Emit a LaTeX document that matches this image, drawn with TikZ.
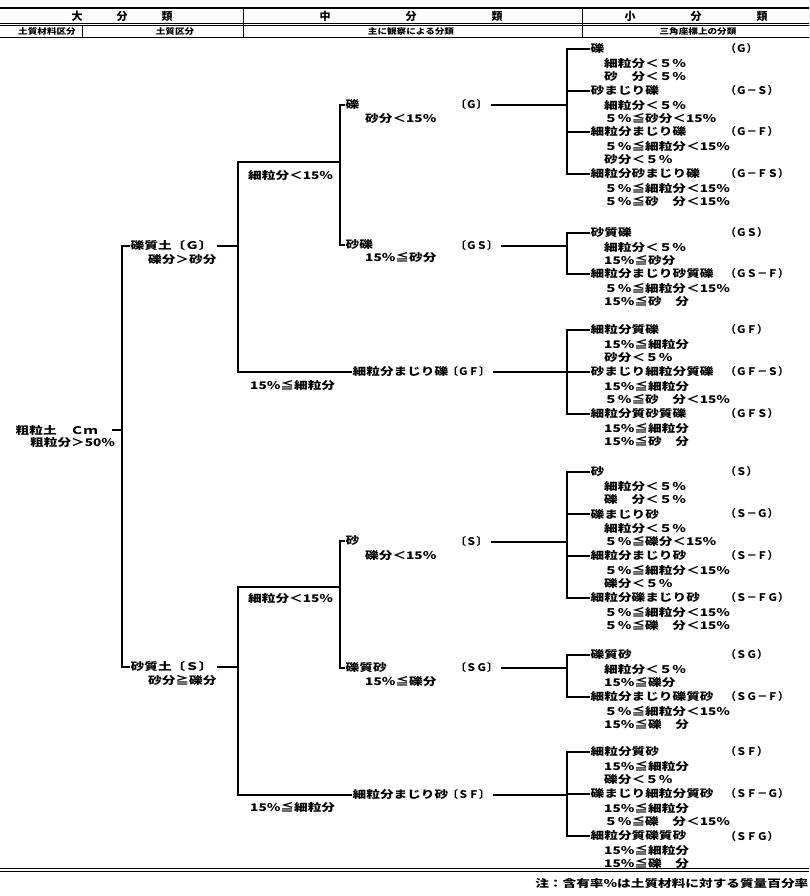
\documentclass[tikz,border=0pt]{standalone}
\usepackage{fontspec}
\newfontfamily\jp[FakeStretch=1.3]{Noto Sans CJK JP}
\newfontfamily\jpn{Noto Sans CJK JP}
\newfontfamily\jps[FakeStretch=1.2]{Noto Sans CJK JP}
\begin{document}
\begin{tikzpicture}[x=1pt,y=-1pt,
  ln/.style={line width=1.1pt,black},
  tl/.style={anchor=west,inner sep=0.5pt,font=\jp\bfseries\fontsize{10.5}{13.8}\selectfont},
  cd/.style={anchor=north west,inner sep=0pt,align=left,font=\jp\bfseries\fontsize{10.5}{13.8}\selectfont},
  code/.style={anchor=west,inner sep=0.5pt,font=\jpn\bfseries\fontsize{10.5}{13.8}\selectfont},
  hd/.style={inner sep=0pt,font=\jpn\bfseries\fontsize{11}{13}\selectfont},
  hs/.style={inner sep=0pt,font=\jps\bfseries\fontsize{8}{10}\selectfont}]
\useasboundingbox (0,0) rectangle (809,896);
\fill[white] (0,0) rectangle (809,896);
% header table
\draw[line width=1.4pt] (0,8) -- (809,8);
\draw[line width=0.7pt] (0,23) -- (809,23);
\draw[line width=0.7pt] (0,25.5) -- (809,25.5);
\draw[line width=0.7pt] (0,37) -- (809,37);
\draw[line width=0.8pt] (243,8) -- (243,37);
\draw[line width=0.8pt] (582,8) -- (582,37);
\draw[line width=0.8pt] (82,25.5) -- (82,37);
\node[hd] (h1) at (122,16) {大\hspace{34pt}分\hspace{34pt}類};
\node[hd] (h2) at (411,16) {中\hspace{75pt}分\hspace{75pt}類};
\node[hd] (h3) at (696,16) {小\hspace{55pt}分\hspace{55pt}類};
\node[hs] (r1) at (47,31) {土質材料区分};
\node[hs] (r2) at (175,31) {土質区分};
\node[hs] (r3) at (411,31) {主に観察による分類};
\node[hs] (r4) at (698,31) {三角座標上の分類};
% bottom lines and note
\draw[line width=0.9pt] (0,868) -- (809,868);
\draw[line width=0.9pt] (0,871.5) -- (809,871.5);
\node[code,anchor=east,font=\jp\bfseries\fontsize{10.5}{13}\selectfont] (note) at (809,884) {注：含有率％は土質材料に対する質量百分率};

% junctions
\coordinate (jR) at (122,430);
\coordinate (jL1) at (238,246);
\coordinate (jL2) at (238,667);
\coordinate (jM1) at (340,162);
\coordinate (jM2) at (340,587);
\coordinate (jG) at (567,105);
\coordinate (jGS) at (567,246);
\coordinate (jGF) at (567,372);
\coordinate (jS) at (567,542);
\coordinate (jSG) at (567,668);
\coordinate (jSF) at (567,795);

% root
\node[tl] (root) at (15,430) {粗粒土　Ｃｍ};
\node[cd] (rootc) at (30,437) {粗粒分＞50％};
\draw[ln,shorten <=14pt] (root.east) -- (jR);

% soils
\node[tl] (gsoil) at (130,246) {礫質土〔Ｇ〕};
\node[cd] (gsoilc) at (148,254) {礫分＞砂分};
\node[tl] (ssoil) at (130,667) {砂質土〔Ｓ〕};
\node[cd] (ssoilc) at (148,675) {砂分≧礫分};
\draw[ln] (gsoil.west) -| (jR);
\draw[ln] (ssoil.west) -| (jR);
\draw[ln,shorten <=4pt] (gsoil.east) -- (jL1);
\draw[ln,shorten <=4pt] (ssoil.east) -- (jL2);

% branch labels
\node[cd] (b1) at (248,170) {細粒分＜15％};
\node[cd] (b2) at (250,380) {15％≦細粒分};
\node[cd] (b3) at (248,593) {細粒分＜15％};
\node[cd] (b4) at (250,802) {15％≦細粒分};

% middle classification (gravel)
\node[tl] (mG) at (345,105) {礫};
\node[cd] (mGc) at (365,113) {砂分＜15％};
\node[code] (cmG) at (455,105) {〔Ｇ〕};
\node[tl] (mGS) at (345,245) {砂礫};
\node[cd] (mGSc) at (365,252) {15％≦砂分};
\node[code] (cmGS) at (455,246) {〔ＧＳ〕};
\node[tl] (mGF) at (352,372) {細粒分まじり礫};
\node[code] (cmGF) at (447,372) {〔ＧＦ〕};
\draw[ln] (mG.west) -| (jM1);
\draw[ln] (mGS.west) -| (jM1);
\draw[ln] (jM1) -| (jL1);
\draw[ln] (mGF.west) -| (jL1);
\draw[ln,shorten <=3pt] (cmG.east) -- (jG);
\draw[ln,shorten <=3pt] (cmGS.east) -- (jGS);
\draw[ln,shorten <=3pt] (cmGF.east) -- (jGF);

% middle classification (sand)
\node[tl] (mS) at (345,541) {砂};
\node[cd] (mSc) at (365,550) {礫分＜15％};
\node[code] (cmS) at (455,542) {〔Ｓ〕};
\node[tl] (mSG) at (345,668) {礫質砂};
\node[cd] (mSGc) at (365,676) {15％≦礫分};
\node[code] (cmSG) at (455,668) {〔ＳＧ〕};
\node[tl] (mSF) at (352,795) {細粒分まじり砂};
\node[code] (cmSF) at (447,795) {〔ＳＦ〕};
\draw[ln] (mS.west) -| (jM2);
\draw[ln] (mSG.west) -| (jM2);
\draw[ln] (jM2) -| (jL2);
\draw[ln] (mSF.west) -| (jL2);
\draw[ln,shorten <=3pt] (cmS.east) -- (jS);
\draw[ln,shorten <=3pt] (cmSG.east) -- (jSG);
\draw[ln,shorten <=3pt] (cmSF.east) -- (jSF);

% small classification: G
\node[tl] (g1) at (590,49) {礫};
\node[code] (cg1) at (725,49) {（Ｇ）};
\node[cd] at (604,58) {細粒分＜５％\\砂　分＜５％};
\node[tl] (g2) at (590,91) {砂まじり礫};
\node[code] (cg2) at (725,91) {（Ｇ－Ｓ）};
\node[cd] at (604,100) {細粒分＜５％\\５％≦砂分＜15％};
\node[tl] (g3) at (590,132) {細粒分まじり礫};
\node[code] (cg3) at (725,132) {（Ｇ－Ｆ）};
\node[cd] at (604,141) {５％≦細粒分＜15％\\砂分＜５％};
\node[tl] (g4) at (590,174) {細粒分砂まじり礫};
\node[code] (cg4) at (725,174) {（Ｇ－ＦＳ）};
\node[cd] at (604,183) {５％≦細粒分＜15％\\５％≦砂　分＜15％};
\foreach \n in {g1,g2,g3,g4} \draw[ln] (\n.west) -| (jG);

% GS
\node[tl] (gs1) at (590,233) {砂質礫};
\node[code] (cgs1) at (725,233) {（ＧＳ）};
\node[cd] at (604,242) {細粒分＜５％\\15％≦砂分};
\node[tl] (gs2) at (590,274) {細粒分まじり砂質礫};
\node[code] (cgs2) at (725,274) {（ＧＳ－Ｆ）};
\node[cd] at (604,283) {５％≦細粒分＜15％\\15％≦砂　分};
\foreach \n in {gs1,gs2} \draw[ln] (\n.west) -| (jGS);

% GF
\node[tl] (gf1) at (590,330) {細粒分質礫};
\node[code] (cgf1) at (725,330) {（ＧＦ）};
\node[cd] at (604,339) {15％≦細粒分\\砂分＜５％};
\node[tl] (gf2) at (590,372) {砂まじり細粒分質礫};
\node[code] (cgf2) at (725,372) {（ＧＦ－Ｓ）};
\node[cd] at (604,381) {15％≦細粒分\\５％≦砂　分＜15％};
\node[tl] (gf3) at (590,414) {細粒分質砂質礫};
\node[code] (cgf3) at (725,414) {（ＧＦＳ）};
\node[cd] at (604,423) {15％≦細粒分\\15％≦砂　分};
\foreach \n in {gf1,gf2,gf3} \draw[ln] (\n.west) -| (jGF);

% S
\node[tl] (s1) at (590,472) {砂};
\node[code] (cs1) at (725,472) {（Ｓ）};
\node[cd] at (604,481) {細粒分＜５％\\礫　分＜５％};
\node[tl] (s2) at (590,514) {礫まじり砂};
\node[code] (cs2) at (725,514) {（Ｓ－Ｇ）};
\node[cd] at (604,523) {細粒分＜５％\\５％≦礫分＜15％};
\node[tl] (s3) at (590,556) {細粒分まじり砂};
\node[code] (cs3) at (725,556) {（Ｓ－Ｆ）};
\node[cd] at (604,565) {５％≦細粒分＜15％\\礫分＜５％};
\node[tl] (s4) at (590,598) {細粒分礫まじり砂};
\node[code] (cs4) at (725,598) {（Ｓ－ＦＧ）};
\node[cd] at (604,607) {５％≦細粒分＜15％\\５％≦礫　分＜15％};
\foreach \n in {s1,s2,s3,s4} \draw[ln] (\n.west) -| (jS);

% SG
\node[tl] (sg1) at (590,655) {礫質砂};
\node[code] (csg1) at (725,655) {（ＳＧ）};
\node[cd] at (604,664) {細粒分＜５％\\15％≦礫分};
\node[tl] (sg2) at (590,697) {細粒分まじり礫質砂};
\node[code] (csg2) at (725,697) {（ＳＧ－Ｆ）};
\node[cd] at (604,706) {５％≦細粒分＜15％\\15％≦礫　分};
\foreach \n in {sg1,sg2} \draw[ln] (\n.west) -| (jSG);

% SF
\node[tl] (sf1) at (590,752) {細粒分質砂};
\node[code] (csf1) at (725,752) {（ＳＦ）};
\node[cd] at (604,761) {15％≦細粒分\\礫分＜５％};
\node[tl] (sf2) at (590,794) {礫まじり細粒分質砂};
\node[code] (csf2) at (725,794) {（ＳＦ－Ｇ）};
\node[cd] at (604,803) {15％≦細粒分\\５％≦礫　分＜15％};
\node[tl] (sf3) at (590,836) {細粒分質礫質砂};
\node[code] (csf3) at (725,836) {（ＳＦＧ）};
\node[cd] at (604,845) {15％≦細粒分\\15％≦礫　分};
\foreach \n in {sf1,sf2,sf3} \draw[ln] (\n.west) -| (jSF);
\end{tikzpicture}
\end{document}
